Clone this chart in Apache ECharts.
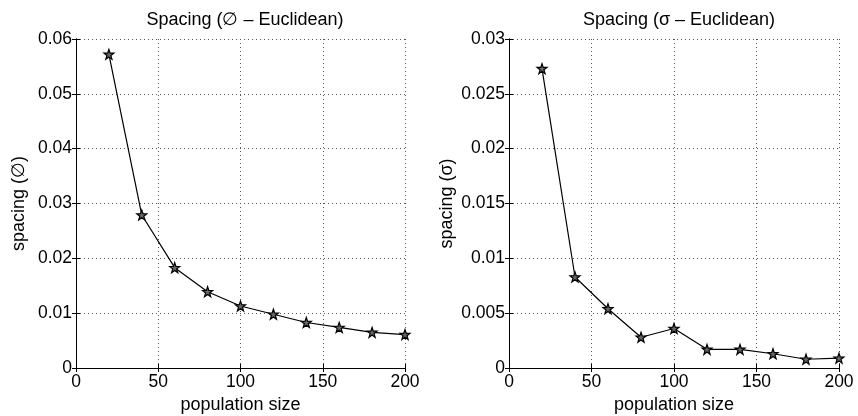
<!DOCTYPE html>
<html>
<head>
<meta charset="utf-8">
<script src="https://cdn.jsdelivr.net/npm/echarts@6/dist/echarts.min.js"></script>
<style>
  html, body { margin: 0; padding: 0; background: #fff; }
  #chart { width: 858px; height: 416px; }
</style>
</head>
<body>
<div id="chart"></div>
<script>
var popSize = [20, 40, 60, 80, 100, 120, 140, 160, 180, 200];
var spacingMean = [0.0572, 0.0279, 0.0183, 0.0139, 0.0113, 0.0098, 0.0083, 0.0074, 0.0065, 0.0061];
var spacingStd = [0.0273, 0.0083, 0.0054, 0.0028, 0.0036, 0.0017, 0.0017, 0.0013, 0.0008, 0.0009];
var xTicks = [0, 50, 100, 150, 200];
var yTicksLeft = [0, 0.01, 0.02, 0.03, 0.04, 0.05, 0.06];
var yTicksRight = [0, 0.005, 0.01, 0.015, 0.02, 0.025, 0.03];

var myChart = echarts.init(document.getElementById('chart'));
var font = 'Liberation Sans, Arial, sans-serif';
var star = 'path://M0,-10 L2.35,-3.24 L9.51,-3.09 L3.8,1.24 L5.88,8.09 L0,4 L-5.88,8.09 L-3.8,1.24 L-9.51,-3.09 L-2.35,-3.24 Z';

function pairs(xs, ys) {
    return xs.map(function (x, i) { return [x, ys[i]]; });
}
function fmt(v) {
    return String(parseFloat(v.toFixed(4)));
}
// x axis (bottom with labels, top as mirror)
function xAxes(grid, name) {
    var step = xTicks[1] - xTicks[0];
    return [{
        type: 'value', gridIndex: grid, position: 'bottom',
        min: xTicks[0], max: xTicks[xTicks.length - 1], interval: step,
        name: name, nameLocation: 'middle', nameGap: 25,
        nameTextStyle: { color: '#000', fontSize: 18, fontFamily: font },
        axisLine: { show: true, lineStyle: { color: '#000', width: 1 } },
        axisTick: { inside: true, length: 4, lineStyle: { color: '#000' } },
        axisLabel: { color: '#000', fontSize: 17.5, fontFamily: font, margin: 5 },
        splitLine: { show: true, lineStyle: { color: '#555', type: [1, 3], width: 1 } }
    }, {
        type: 'value', gridIndex: grid, position: 'top',
        min: xTicks[0], max: xTicks[xTicks.length - 1], interval: step,
        axisLine: { show: true, lineStyle: { color: '#000', width: 1 } },
        axisTick: { inside: true, length: 4, lineStyle: { color: '#000' } },
        axisLabel: { show: false },
        splitLine: { show: false }
    }];
}
function yAxes(grid, ticks, name, gap) {
    var step = ticks[1] - ticks[0];
    return [{
        type: 'value', gridIndex: grid, position: 'left',
        min: ticks[0], max: ticks[ticks.length - 1], interval: step,
        name: name, nameLocation: 'middle', nameGap: gap,
        nameTextStyle: { color: '#000', fontSize: 18, fontFamily: font },
        axisLine: { show: true, lineStyle: { color: '#000', width: 1 } },
        axisTick: { inside: true, length: 4, lineStyle: { color: '#000' } },
        axisLabel: { color: '#000', fontSize: 17.5, fontFamily: font, margin: 4, formatter: fmt },
        splitLine: { show: true, lineStyle: { color: '#555', type: [1, 3], width: 1 } }
    }, {
        type: 'value', gridIndex: grid, position: 'right',
        min: ticks[0], max: ticks[ticks.length - 1], interval: step,
        axisLine: { show: true, lineStyle: { color: '#000', width: 1 } },
        axisTick: { inside: true, length: 4, lineStyle: { color: '#000' } },
        axisLabel: { show: false },
        splitLine: { show: false }
    }];
}
function lineSeries(xi, yi, data) {
    return {
        type: 'line', xAxisIndex: xi, yAxisIndex: yi,
        data: data,
        symbol: star, symbolSize: 10,
        lineStyle: { color: '#000', width: 1.2 },
        itemStyle: { color: '#666', borderColor: '#000', borderWidth: 1.2 },
        animation: false
    };
}

var option = {
    backgroundColor: '#fff',
    title: [
        { text: 'Spacing (\u2205 \u2013 Euclidean)', left: 240, top: 6, textAlign: 'center',
          textStyle: { fontSize: 18, fontWeight: 'normal', color: '#000', fontFamily: font } },
        { text: 'Spacing (\u03c3 \u2013 Euclidean)', left: 674, top: 6, textAlign: 'center',
          textStyle: { fontSize: 18, fontWeight: 'normal', color: '#000', fontFamily: font } }
    ],
    grid: [
        { left: 76, top: 39, width: 329, height: 329, outerBoundsMode: 'none' },
        { left: 509, top: 39, width: 330, height: 329, outerBoundsMode: 'none' }
    ],
    xAxis: xAxes(0, 'population size').concat(xAxes(1, 'population size')),
    yAxis: yAxes(0, yTicksLeft, 'spacing (\u2205)', 48).concat(yAxes(1, yTicksRight, 'spacing (\u03c3)', 53)),
    series: [
        lineSeries(0, 0, pairs(popSize, spacingMean)),
        lineSeries(2, 2, pairs(popSize, spacingStd))
    ]
};
myChart.setOption(option);
</script>
</body>
</html>
